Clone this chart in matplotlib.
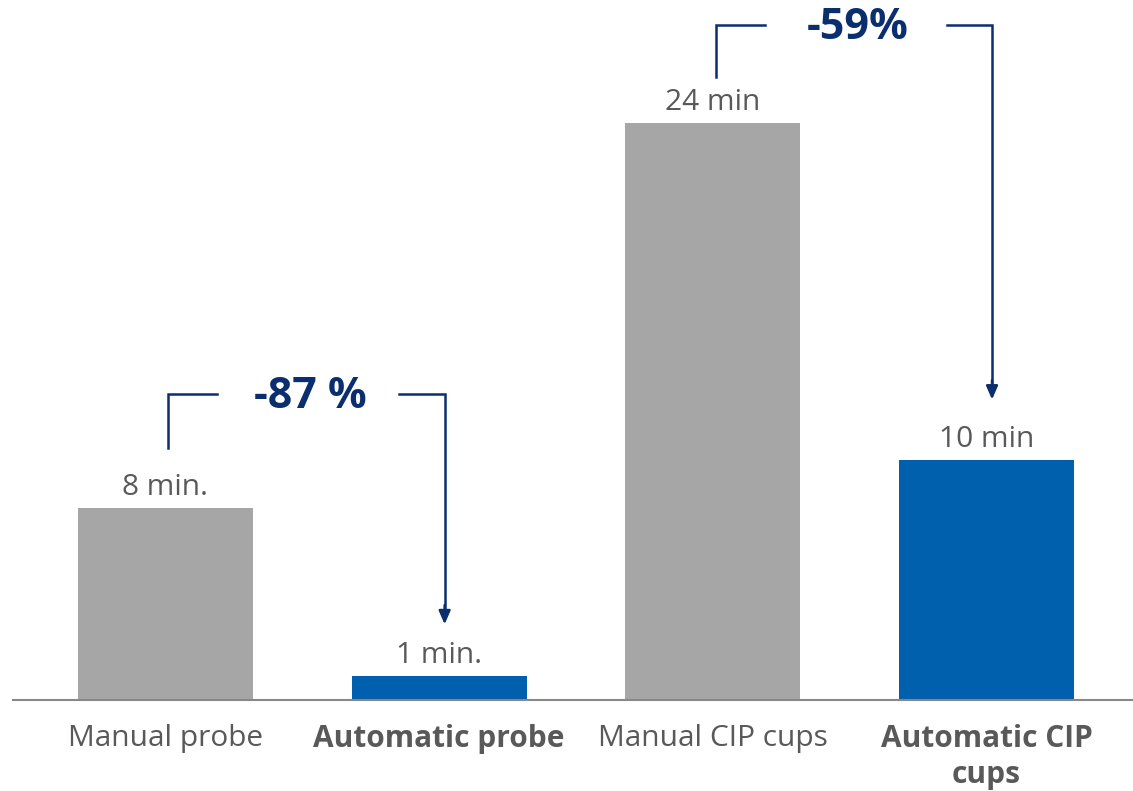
import matplotlib.pyplot as plt

plt.rcParams['font.family'] = ['Open Sans', 'DejaVu Sans']

categories = ["Manual probe", "Automatic probe", "Manual CIP cups", "Automatic CIP\ncups"]
minutes = [8, 1, 24, 10]
value_labels = ["8 min.", "1 min.", "24 min", "10 min"]
bold = [False, True, False, True]
bar_colors = ["#a6a6a6", "#0060ae", "#a6a6a6", "#0060ae"]

# reduction brackets: (from bar, to bar, text, left foot, top, arrow tip)
brackets = [
    (0, 1, "-87 %", 10.5, 12.75, 3.15),
    (2, 3, "-59%", 25.9, 28.1, 12.5),
]

navy = "#0b2f6e"
txt = "#595959"

fig = plt.figure(figsize=(11.33, 7.91), dpi=100)
ax = fig.add_axes([13 / 1133, 91 / 791, 1 - 13 / 1133, 700 / 791])

x = range(len(categories))
ax.bar(x, minutes, width=0.64, color=bar_colors, zorder=2)

for i, (v, lab) in enumerate(zip(minutes, value_labels)):
    ax.text(i, v + 0.25, lab, ha="center", va="bottom", fontsize=21.5, color=txt)

for a, b, label, foot, top, tip in brackets:
    xa = a + 0.01
    xb = b + 0.02
    xm = (a + b) / 2 + 0.03
    ax.plot([xa, xa, xa + 0.18], [foot, top, top], color=navy, lw=1.8,
            solid_joinstyle="miter")
    ax.plot([xm + 0.325, xb, xb], [top, top, tip + 0.6], color=navy, lw=1.8,
            solid_joinstyle="miter")
    ax.annotate("", xy=(xb, tip), xytext=(xb, tip + 0.8),
                arrowprops=dict(arrowstyle="-|>,head_length=0.8,head_width=0.35",
                                color=navy, lw=1.8, shrinkA=0, shrinkB=0))
    ax.text(xm, top - 0.12, label, ha="center", va="center", fontsize=31,
            fontweight="bold", color=navy)

ax.set_xlim(-0.557, 3.535)
ax.set_ylim(0, 29.12)
ax.set_xticks(list(x))
ax.set_xticklabels(categories, fontsize=21.5, color=txt, linespacing=1.28)
for t, b in zip(ax.get_xticklabels(), bold):
    if b:
        t.set_fontweight("bold")
ax.tick_params(axis="x", length=0, pad=17)
ax.set_yticks([])
for s in ["top", "right", "left"]:
    ax.spines[s].set_visible(False)
ax.spines["bottom"].set_color("#888888")
ax.spines["bottom"].set_linewidth(1.5)
ax.spines["bottom"].set_zorder(3)

fig.savefig("out.png", dpi=100)
